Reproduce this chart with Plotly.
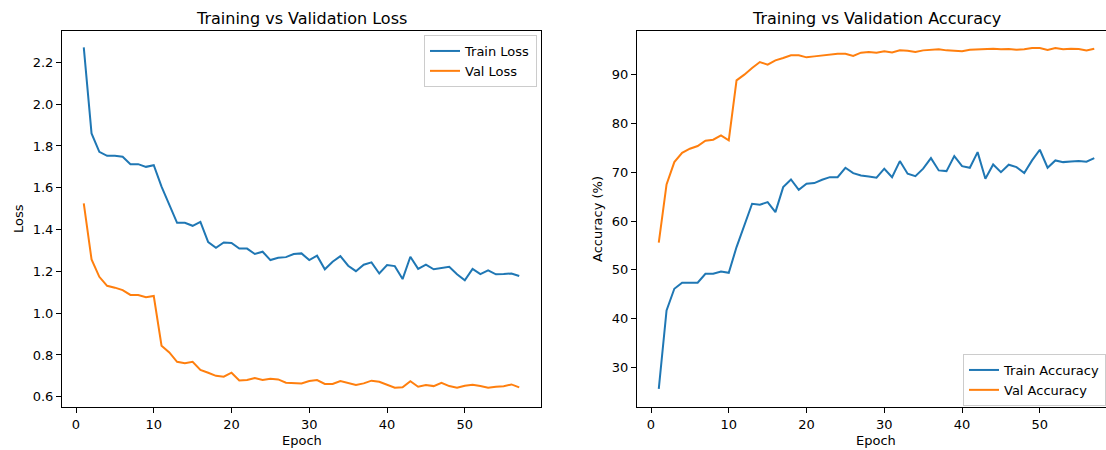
import plotly.graph_objects as go

epochs = list(range(1, 58))

train_loss = [2.272, 1.860, 1.772, 1.753, 1.753, 1.748, 1.713, 1.713, 1.700, 1.708,
              1.605, 1.517, 1.432, 1.432, 1.418, 1.437, 1.340, 1.313, 1.338, 1.336,
              1.309, 1.309, 1.283, 1.294, 1.254, 1.265, 1.268, 1.283, 1.286, 1.254,
              1.275, 1.210, 1.246, 1.273, 1.227, 1.201, 1.232, 1.243, 1.190, 1.230,
              1.225, 1.163, 1.270, 1.212, 1.232, 1.210, 1.217, 1.222, 1.186, 1.157,
              1.212, 1.187, 1.205, 1.186, 1.187, 1.190, 1.178]

val_loss = [1.525, 1.257, 1.174, 1.131, 1.122, 1.110, 1.087, 1.087, 1.076, 1.082,
            0.844, 0.812, 0.767, 0.760, 0.767, 0.728, 0.715, 0.700, 0.696, 0.715,
            0.678, 0.680, 0.690, 0.680, 0.686, 0.683, 0.667, 0.664, 0.664, 0.675,
            0.680, 0.661, 0.661, 0.675, 0.664, 0.656, 0.664, 0.677, 0.672, 0.659,
            0.643, 0.645, 0.674, 0.648, 0.656, 0.651, 0.667, 0.651, 0.643, 0.653,
            0.657, 0.651, 0.643, 0.648, 0.650, 0.659, 0.645]

train_acc = [25.63, 41.68, 46.13, 47.36, 47.36, 47.36, 49.20, 49.20, 49.68, 49.41,
             54.67, 59.25, 63.55, 63.35, 63.89, 61.83, 66.96, 68.53, 66.42, 67.65,
             67.78, 68.47, 69.00, 69.00, 70.93, 69.83, 69.36, 69.15, 68.88, 70.73,
             69.00, 72.29, 69.70, 69.21, 70.73, 72.90, 70.38, 70.24, 73.31, 71.26,
             70.93, 74.13, 68.68, 71.61, 70.03, 71.55, 71.06, 69.83, 72.43, 74.62,
             70.93, 72.43, 72.08, 72.23, 72.29, 72.16, 72.90]

val_acc = [55.56, 67.51, 72.08, 74.00, 74.83, 75.37, 76.47, 76.67, 77.56, 76.53,
           88.83, 90.00, 91.36, 92.59, 92.05, 92.93, 93.41, 93.96, 93.96, 93.55,
           93.75, 93.96, 94.16, 94.30, 94.30, 93.82, 94.51, 94.64, 94.50, 94.78,
           94.57, 94.98, 94.92, 94.64, 94.98, 95.05, 95.19, 94.98, 94.92, 94.78,
           95.12, 95.19, 95.19, 95.33, 95.19, 95.26, 95.12, 95.19, 95.46, 95.46,
           95.05, 95.46, 95.19, 95.33, 95.26, 94.98, 95.33]

loss_ticks = [0.6, 0.8, 1.0, 1.2, 1.4, 1.6, 1.8, 2.0, 2.2]
acc_ticks = [30, 40, 50, 60, 70, 80, 90]
epoch_ticks = [0, 10, 20, 30, 40, 50]

BLUE = "#1f77b4"
ORANGE = "#ff7f0e"
W, H = 1106, 450
FONT = "DejaVu Sans"

fig = go.Figure()
fig.add_trace(go.Scatter(x=epochs, y=train_loss, mode="lines", name="Train Loss",
                         line=dict(color=BLUE, width=2), xaxis="x", yaxis="y", legend="legend"))
fig.add_trace(go.Scatter(x=epochs, y=val_loss, mode="lines", name="Val Loss",
                         line=dict(color=ORANGE, width=2), xaxis="x", yaxis="y", legend="legend"))
fig.add_trace(go.Scatter(x=epochs, y=train_acc, mode="lines", name="Train Accuracy",
                         line=dict(color=BLUE, width=2), xaxis="x2", yaxis="y2", legend="legend2"))
fig.add_trace(go.Scatter(x=epochs, y=val_acc, mode="lines", name="Val Accuracy",
                         line=dict(color=ORANGE, width=2), xaxis="x2", yaxis="y2", legend="legend2"))

axis_common = dict(showline=True, linecolor="black", linewidth=1, ticks="outside",
                   ticklen=5, tickwidth=1, tickcolor="black", showgrid=False,
                   zeroline=False, automargin=False,
                   tickfont=dict(family=FONT, size=13, color="black"))

ydom = [1 - 407 / H, 1 - 31 / H]

fig.update_layout(
    width=W, height=H,
    margin=dict(l=0, r=0, t=0, b=0),
    paper_bgcolor="white", plot_bgcolor="white",
    font=dict(family=FONT, size=13, color="black"),
    xaxis=dict(domain=[62 / W, 541 / W], range=[-1.8, 59.8], tickvals=epoch_ticks,
               mirror=True, anchor="y", **axis_common),
    yaxis=dict(domain=ydom, range=[0.551, 2.350], tickvals=loss_ticks, tickformat=".1f",
               mirror=True, anchor="x", **axis_common),
    xaxis2=dict(domain=[637 / W, 1.0], range=[-1.8, 58.51], tickvals=epoch_ticks,
                mirror=True, anchor="y2", **axis_common),
    yaxis2=dict(domain=ydom, range=[21.9, 98.95], tickvals=acc_ticks,
                mirror=False, anchor="x2", **axis_common),
    legend=dict(x=537 / W, xanchor="right", y=1 - 35 / H, yanchor="top",
                bgcolor="rgba(255,255,255,0.8)", bordercolor="#cccccc", borderwidth=1,
                font=dict(family=FONT, size=13, color="black"), itemwidth=30),
    legend2=dict(x=963 / W, xanchor="left", y=1 - 354 / H, yanchor="top",
                 bgcolor="rgba(255,255,255,0.8)", bordercolor="#cccccc", borderwidth=1,
                 font=dict(family=FONT, size=13, color="black"), itemwidth=30),
    showlegend=True,
)

ann = [
    dict(text="Training vs Validation Loss", x=301.5 / W, y=1 - 18 / H, size=16, angle=0),
    dict(text="Training vs Validation Accuracy", x=876 / W, y=1 - 18 / H, size=16, angle=0),
    dict(text="Loss", x=18 / W, y=1 - 219 / H, size=13, angle=-90),
    dict(text="Accuracy (%)", x=597 / W, y=1 - 219 / H, size=13, angle=-90),
    dict(text="Epoch", x=301.5 / W, y=1 - 440 / H, size=13, angle=0),
    dict(text="Epoch", x=876 / W, y=1 - 440 / H, size=13, angle=0),
]
for a in ann:
    fig.add_annotation(text=a["text"], x=a["x"], y=a["y"], xref="paper", yref="paper",
                       xanchor="center", yanchor="middle", showarrow=False,
                       textangle=a["angle"],
                       font=dict(family=FONT, size=a["size"], color="black"))

fig.write_html("out.html", config={"displayModeBar": False},
               post_script="document.body.style.margin='0px';document.body.style.overflow='hidden';")
